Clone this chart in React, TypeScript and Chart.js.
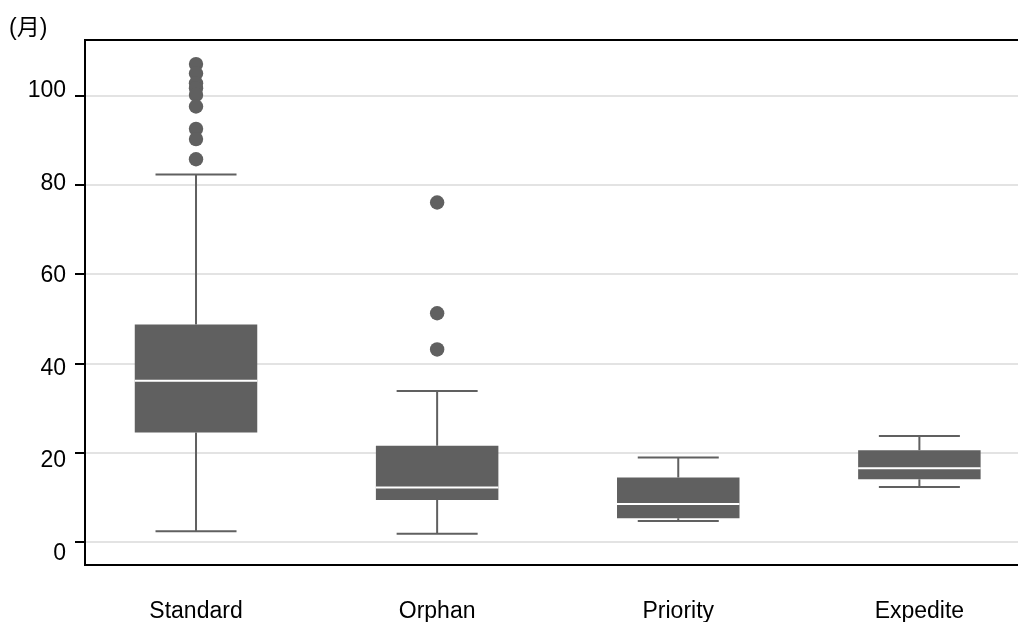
import React, { useEffect, useRef } from 'react';
import { Chart, registerables } from 'chart.js';

Chart.register(...registerables);

const categories = ['Standard', 'Orphan', 'Priority', 'Expedite'];
const whiskerLow = [2.5, 1.9, 4.8, 12.4];
const q1 = [24.6, 9.5, 5.4, 14.1];
const median = [36.2, 12.3, 8.6, 16.6];
const q3 = [48.8, 21.6, 14.5, 20.6];
const whiskerHigh = [82.4, 33.9, 19.0, 23.8];
const outliers: number[][] = [
  [107.1, 105.0, 102.8, 101.7, 100.2, 97.6, 92.6, 90.3, 85.8],
  [76.1, 51.3, 43.2],
  [],
  [],
];
const yTicks = [0, 20, 40, 60, 80, 100];
const yUnit = '(月)';

const FONT = "'Liberation Sans', Arial, 'Noto Sans CJK SC', sans-serif";
const GRAY = '#606060';
const BOX_HALF = 0.254;
const CAP_HALF = 0.168;

const topBorder = {
  id: 'topBorder',
  afterDraw(chart: any) {
    const { ctx, chartArea } = chart;
    ctx.save();
    ctx.strokeStyle = '#000';
    ctx.lineWidth = 2;
    ctx.beginPath();
    ctx.moveTo(chartArea.left - 1, chartArea.top);
    ctx.lineTo(chartArea.right, chartArea.top);
    ctx.stroke();
    ctx.restore();
  },
};

export default function App() {
  const ref = useRef<HTMLCanvasElement | null>(null);

  useEffect(() => {
    if (!ref.current) return;

    const boxData = categories.map((_, i) => ({ x: i, y: [q1[i], q3[i]] }));
    const medianData = categories.flatMap((_, i) => [
      { x: i - BOX_HALF, y: median[i] },
      { x: i + BOX_HALF, y: median[i] },
      { x: i, y: null },
    ]);
    const whiskerData = categories.flatMap((_, i) => [
      { x: i, y: q3[i] },
      { x: i, y: whiskerHigh[i] },
      { x: i, y: null },
      { x: i, y: q1[i] },
      { x: i, y: whiskerLow[i] },
      { x: i, y: null },
      { x: i - CAP_HALF, y: whiskerHigh[i] },
      { x: i + CAP_HALF, y: whiskerHigh[i] },
      { x: i, y: null },
      { x: i - CAP_HALF, y: whiskerLow[i] },
      { x: i + CAP_HALF, y: whiskerLow[i] },
      { x: i, y: null },
    ]);
    const outlierData = outliers.flatMap((arr, i) => arr.map((v) => ({ x: i, y: v })));

    const chart = new Chart(ref.current, {
      type: 'bar',
      data: {
        datasets: [
          {
            type: 'line',
            data: whiskerData as any,
            borderColor: GRAY,
            borderWidth: 2,
            pointRadius: 0,
            spanGaps: false,
            order: 3,
            xAxisID: 'x',
            yAxisID: 'y',
          } as any,
          {
            type: 'bar',
            data: boxData as any,
            backgroundColor: GRAY,
            borderWidth: 0,
            barPercentage: 0.508,
            categoryPercentage: 1,
            order: 2,
            xAxisID: 'x',
            yAxisID: 'y',
          } as any,
          {
            type: 'line',
            data: medianData as any,
            borderColor: '#ffffff',
            borderWidth: 2,
            pointRadius: 0,
            spanGaps: false,
            order: 1,
            xAxisID: 'x',
            yAxisID: 'y',
          } as any,
          {
            type: 'scatter',
            data: outlierData as any,
            pointRadius: 7.2,
            pointBackgroundColor: GRAY,
            pointBorderWidth: 0,
            borderWidth: 0,
            order: 1,
            xAxisID: 'x',
            yAxisID: 'y',
          } as any,
        ],
      },
      options: {
        responsive: false,
        animation: false,
        layout: { autoPadding: false, padding: { left: 9, right: 0, top: 0, bottom: 0 } },
        plugins: {
          legend: { display: false },
          tooltip: { enabled: false },
          title: {
            display: true,
            text: yUnit,
            align: 'start',
            color: '#000',
            font: { family: FONT, size: 23, weight: 'normal', lineHeight: 1 },
            padding: { top: 17, bottom: 0 },
          },
        },
        scales: {
          x: {
            type: 'linear',
            position: 'bottom',
            min: -0.4604,
            max: 3.409,
            offset: false,
            grid: { display: false, drawTicks: false, offset: false },
            border: { display: true, color: '#000', width: 2 },
            afterBuildTicks: (axis: any) => {
              axis.ticks = categories.map((_, i) => ({ value: i }));
            },
            afterFit: (axis: any) => {
              axis.height = 57;
              axis.paddingLeft = 0;
              axis.paddingRight = 0;
            },
            ticks: {
              autoSkip: false,
              maxRotation: 0,
              padding: 33,
              color: '#000',
              font: { family: FONT, size: 23 },
              callback: (v: any) => categories[v as number] ?? '',
            },
          },
          y: {
            type: 'linear',
            position: 'left',
            weight: 0,
            min: -5.08,
            max: 112.5,
            afterBuildTicks: (axis: any) => {
              axis.ticks = yTicks.map((v) => ({ value: v }));
            },
            afterFit: (axis: any) => {
              axis.width = 10;
              axis.paddingTop = 0;
              axis.paddingBottom = 0;
            },
            grid: {
              color: '#e3e3e3',
              lineWidth: 2,
              drawTicks: true,
              tickLength: 10,
              tickColor: '#000',
              tickWidth: 2,
            },
            border: { display: true, color: '#000', width: 2 },
            ticks: { display: false },
          },
          yl: {
            type: 'linear',
            position: 'left',
            weight: 1,
            min: -2.53,
            max: 110.96,
            afterBuildTicks: (axis: any) => {
              axis.ticks = yTicks.map((v) => ({ value: v }));
            },
            afterFit: (axis: any) => {
              axis.width = 66;
              axis.paddingTop = 0;
              axis.paddingBottom = 0;
            },
            grid: { display: false, drawTicks: false },
            border: { display: false },
            ticks: {
              padding: 9,
              color: '#000',
              font: { family: FONT, size: 23 },
            },
          },
        },
      } as any,
      plugins: [topBorder],
    });

    return () => chart.destroy();
  }, []);

  return (
    <div style={{ position: 'absolute', left: 0, top: 0, width: 1018, height: 622, background: '#fff' }}>
      <canvas ref={ref} width={1018} height={622} style={{ display: 'block' }} />
    </div>
  );
}
